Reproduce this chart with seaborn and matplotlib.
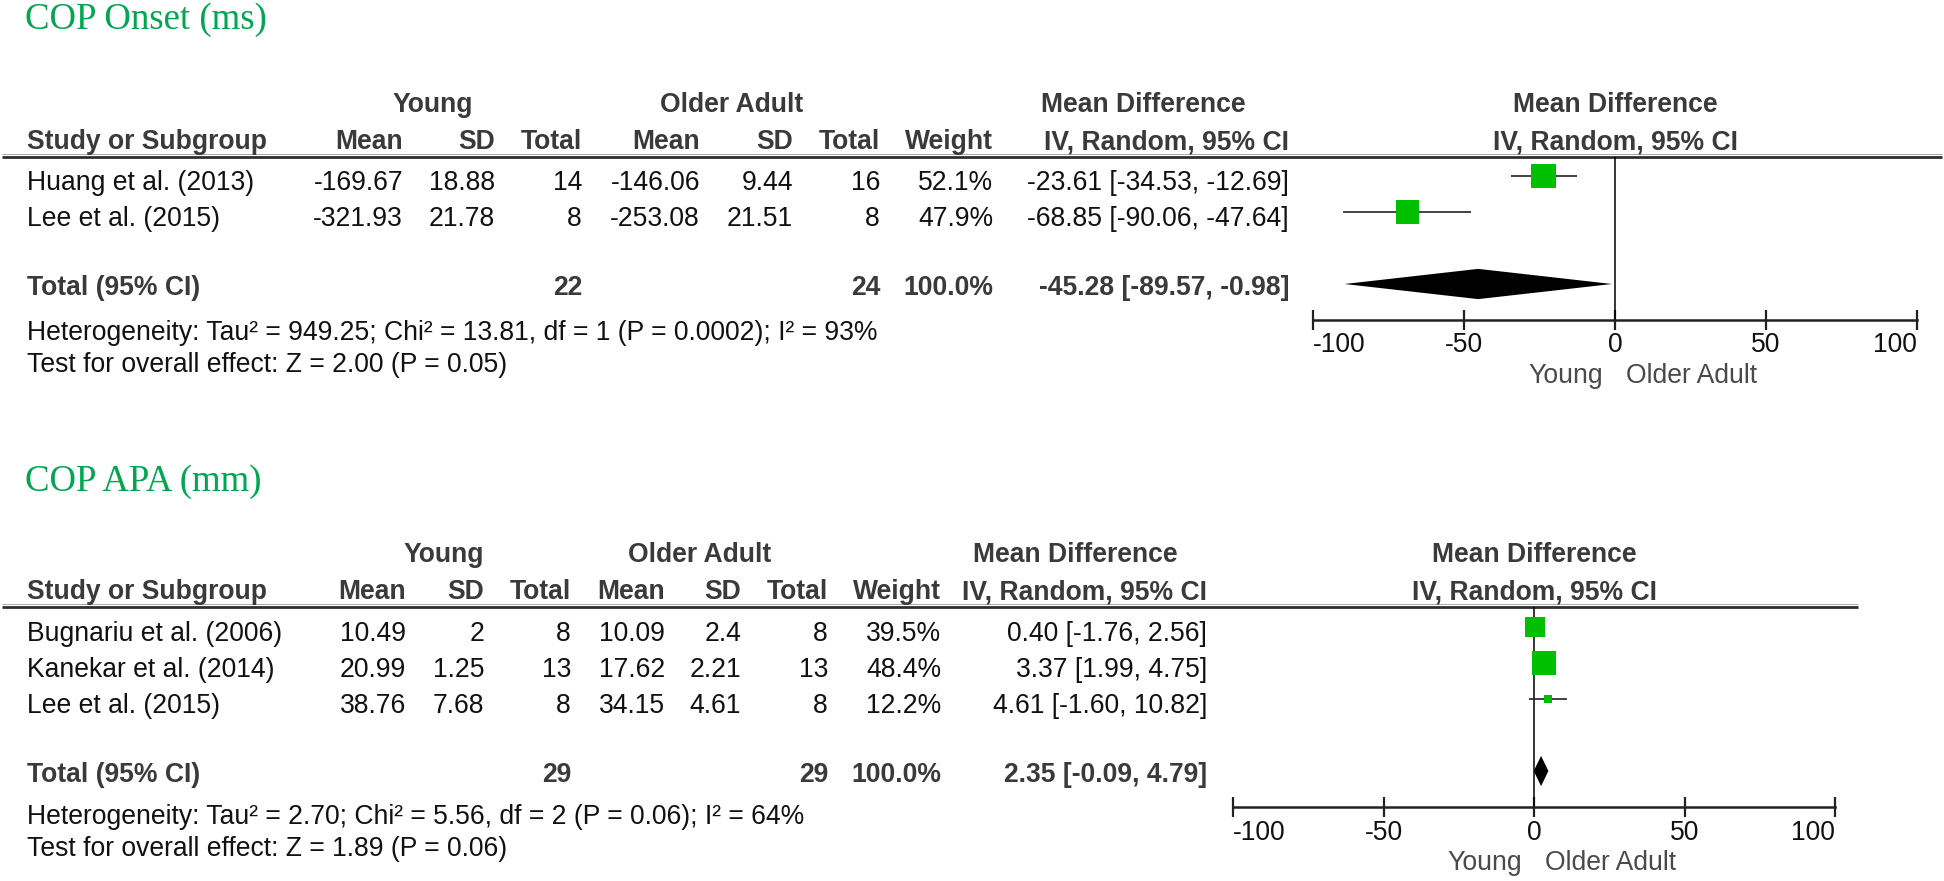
import pandas as pd
import seaborn as sns
import matplotlib.pyplot as plt

# ---- COP Onset (ms) ----
onset_studies = ["Huang et al. (2013)", "Lee et al. (2015)"]
onset_young_mean = [-169.67, -321.93]
onset_young_sd = [18.88, 21.78]
onset_young_n = [14, 8]
onset_older_mean = [-146.06, -253.08]
onset_older_sd = [9.44, 21.51]
onset_older_n = [16, 8]
onset_weight = [52.1, 47.9]
onset_md = [-23.61, -68.85]
onset_lo = [-34.53, -90.06]
onset_hi = [-12.69, -47.64]
onset_total_n = [22, 24]
onset_total_weight = 100.0
onset_total = [-45.28, -89.57, -0.98]
onset_het = "Heterogeneity: Tau² = 949.25; Chi² = 13.81, df = 1 (P = 0.0002); I² = 93%"
onset_test = "Test for overall effect: Z = 2.00 (P = 0.05)"

# ---- COP APA (mm) ----
apa_studies = ["Bugnariu et al. (2006)", "Kanekar et al. (2014)", "Lee et al. (2015)"]
apa_young_mean = [10.49, 20.99, 38.76]
apa_young_sd = [2, 1.25, 7.68]
apa_young_n = [8, 13, 8]
apa_older_mean = [10.09, 17.62, 34.15]
apa_older_sd = [2.4, 2.21, 4.61]
apa_older_n = [8, 13, 8]
apa_weight = [39.5, 48.4, 12.2]
apa_md = [0.40, 3.37, 4.61]
apa_lo = [-1.76, 1.99, -1.60]
apa_hi = [2.56, 4.75, 10.82]
apa_total_n = [29, 29]
apa_total_weight = 100.0
apa_total = [2.35, -0.09, 4.79]
apa_het = "Heterogeneity: Tau² = 2.70; Chi² = 5.56, df = 2 (P = 0.06); I² = 64%"
apa_test = "Test for overall effect: Z = 1.89 (P = 0.06)"

axis_ticks = [-100, -50, 0, 50, 100]

W, H = 1944, 881
ROW = 36  # pixel height of one table row

sns.set_style("white")
plt.rcParams["font.family"] = ["Liberation Sans", "DejaVu Sans"]
plt.rcParams["axes.unicode_minus"] = False

BOLD_C = "#3a3a3a"
TEXT_C = "#111111"
GREEN = "#00BF00"
TITLE_G = "#00A651"
FS = 19.1


def fmt_ci(m, lo, hi):
    return f"{m:.2f} [{lo:.2f}, {hi:.2f}]"


def draw_panel(fig, bg, title, data, lay):
    (studies, ym, ysd, yn, om, osd, on, wt, md, lo, hi,
     tot_n, tot_w, tot, het, test) = data
    cols = lay["cols"]
    y0 = lay["y0"]
    n = len(studies)
    total_row = n + 1
    axis_row = n + 2
    axis_y = y0 + ROW * axis_row
    line_y = lay["line_y"]

    # title
    bg.text(25, lay["title_y"], title, family="Liberation Serif", fontsize=26.5,
            color=TITLE_G, va="baseline", ha="left")

    # headers
    h2 = line_y - 8
    h1 = h2 - 37
    hb = dict(fontsize=FS, fontweight="bold", color=BOLD_C, va="baseline")
    bg.text(lay["young_c"], h1, "Young", ha="center", **hb)
    bg.text(lay["older_c"], h1, "Older Adult", ha="center", **hb)
    bg.text(lay["md_c"], h1, "Mean Difference", ha="center", **hb)
    bg.text(27, h2, "Study or Subgroup", ha="left", **hb)
    for key, lab in [("ym", "Mean"), ("ysd", "SD"), ("yn", "Total"), ("om", "Mean"),
                     ("osd", "SD"), ("on", "Total"), ("wt", "Weight"),
                     ("ci", "IV, Random, 95% CI")]:
        bg.text(cols[key], h2, lab, ha="right", **hb)
    xc = (lay["x_lo"] + lay["x_hi"]) / 2
    bg.text(xc, h1, "Mean Difference", ha="center", **hb)
    bg.text(xc, h2, "IV, Random, 95% CI", ha="center", **hb)
    bg.plot([2, lay["line_end"]], [line_y, line_y], color="#2e2e2e", lw=2.0,
            solid_capstyle="butt")
    bg.plot([2, lay["line_end"]], [line_y - 3, line_y - 3], color="#9a9a9a", lw=0.6,
            solid_capstyle="butt")

    # study rows
    rt = dict(fontsize=FS, color=TEXT_C, va="baseline")
    for i in range(n):
        yb = y0 + ROW * i + 14
        bg.text(27, yb, studies[i], ha="left", **rt)
        vals = {"ym": f"{ym[i]:g}", "ysd": f"{ysd[i]:g}", "yn": f"{yn[i]}",
                "om": f"{om[i]:g}", "osd": f"{osd[i]:g}", "on": f"{on[i]}",
                "wt": f"{wt[i]:.1f}%", "ci": fmt_ci(md[i], lo[i], hi[i])}
        for key, s in vals.items():
            bg.text(cols[key], yb, s, ha="right", **rt)

    # total row
    yb = y0 + ROW * total_row + 11
    bg.text(27, yb, "Total (95% CI)", ha="left", **hb)
    bg.text(cols["yn"], yb, f"{tot_n[0]}", ha="right", **hb)
    bg.text(cols["on"], yb, f"{tot_n[1]}", ha="right", **hb)
    bg.text(cols["wt"], yb, f"{tot_w:.1f}%", ha="right", **hb)
    bg.text(cols["ci"], yb, fmt_ci(*tot), ha="right", **hb)

    het_y = axis_y + lay["het_dy"]
    bg.text(27, het_y, het, ha="left", **rt)
    bg.text(27, het_y + 32, test, ha="left", **rt)

    # forest plot
    ax = fig.add_axes([lay["x_lo"] / W, 1 - axis_y / H,
                       (lay["x_hi"] - lay["x_lo"]) / W, (axis_y - line_y) / H])
    ax.patch.set_alpha(0)
    df = pd.DataFrame({"row": range(n), "md": md, "lo": lo, "hi": hi, "weight": wt})
    ax.hlines(df["row"], df["lo"], df["hi"], color="#222222", lw=1.2, zorder=2)
    sizes = {w: ((3 + 0.42 * w) * 0.72) ** 2 for w in wt}
    sns.scatterplot(data=df, x="md", y="row", size="weight", sizes=sizes,
                    marker="s", color=GREEN, linewidth=0, legend=False, ax=ax, zorder=3)
    est, tlo, thi = tot
    ax.fill([tlo, est, thi, est],
            [total_row, total_row - 0.42, total_row, total_row + 0.42],
            color="black", lw=0, zorder=3)
    ax.axvline(0, color="black", lw=1.1, zorder=1)
    ax.set_xlim(-100, 100)
    ax.set_ylim(axis_row, (line_y - y0) / ROW)
    ax.set_xticks(axis_ticks)
    ax.set_xticklabels([str(t) for t in axis_ticks])
    labels = ax.get_xticklabels()
    labels[0].set_ha("left")
    labels[-1].set_ha("right")
    ax.set_yticks([])
    ax.set_xlabel("")
    ax.set_ylabel("")
    for s in ["top", "left", "right"]:
        ax.spines[s].set_visible(False)
    ax.spines["bottom"].set_linewidth(1.8)
    ax.spines["bottom"].set_color("#222222")
    ax.tick_params(axis="x", direction="inout", length=14, width=1.6,
                   color="#222222", pad=2, labelsize=FS, labelcolor=TEXT_C, bottom=True)
    ax.annotate("Young", xy=(0, 0), xycoords=("data", "axes fraction"),
                xytext=(-12, -63), textcoords="offset pixels", ha="right",
                va="baseline", fontsize=FS, color="#4a4a4a")
    ax.annotate("Older Adult", xy=(0, 0), xycoords=("data", "axes fraction"),
                xytext=(11, -63), textcoords="offset pixels", ha="left",
                va="baseline", fontsize=FS, color="#4a4a4a")


fig = plt.figure(figsize=(W / 100, H / 100), dpi=100)
bg = fig.add_axes([0, 0, 1, 1])
bg.set_xlim(0, W)
bg.set_ylim(H, 0)
bg.axis("off")

onset_layout = {"title_y": 29, "line_y": 157, "y0": 176, "x_lo": 1313, "x_hi": 1917,
                "line_end": 1942, "young_c": 433, "older_c": 732, "md_c": 1143,
                "het_dy": 20,
                "cols": {"ym": 403, "ysd": 495, "yn": 582, "om": 700, "osd": 793,
                         "on": 880, "wt": 993, "ci": 1289}}
apa_layout = {"title_y": 491, "line_y": 607, "y0": 627, "x_lo": 1233, "x_hi": 1835,
              "line_end": 1858, "young_c": 444, "older_c": 700, "md_c": 1075,
              "het_dy": 17,
              "cols": {"ym": 406, "ysd": 484, "yn": 571, "om": 665, "osd": 741,
                       "on": 828, "wt": 941, "ci": 1207}}

draw_panel(fig, bg, "COP Onset (ms)",
           (onset_studies, onset_young_mean, onset_young_sd, onset_young_n,
            onset_older_mean, onset_older_sd, onset_older_n, onset_weight,
            onset_md, onset_lo, onset_hi, onset_total_n, onset_total_weight,
            onset_total, onset_het, onset_test),
           onset_layout)
draw_panel(fig, bg, "COP APA (mm)",
           (apa_studies, apa_young_mean, apa_young_sd, apa_young_n,
            apa_older_mean, apa_older_sd, apa_older_n, apa_weight,
            apa_md, apa_lo, apa_hi, apa_total_n, apa_total_weight,
            apa_total, apa_het, apa_test),
           apa_layout)

fig.savefig("out.png", dpi=100, facecolor="white")
